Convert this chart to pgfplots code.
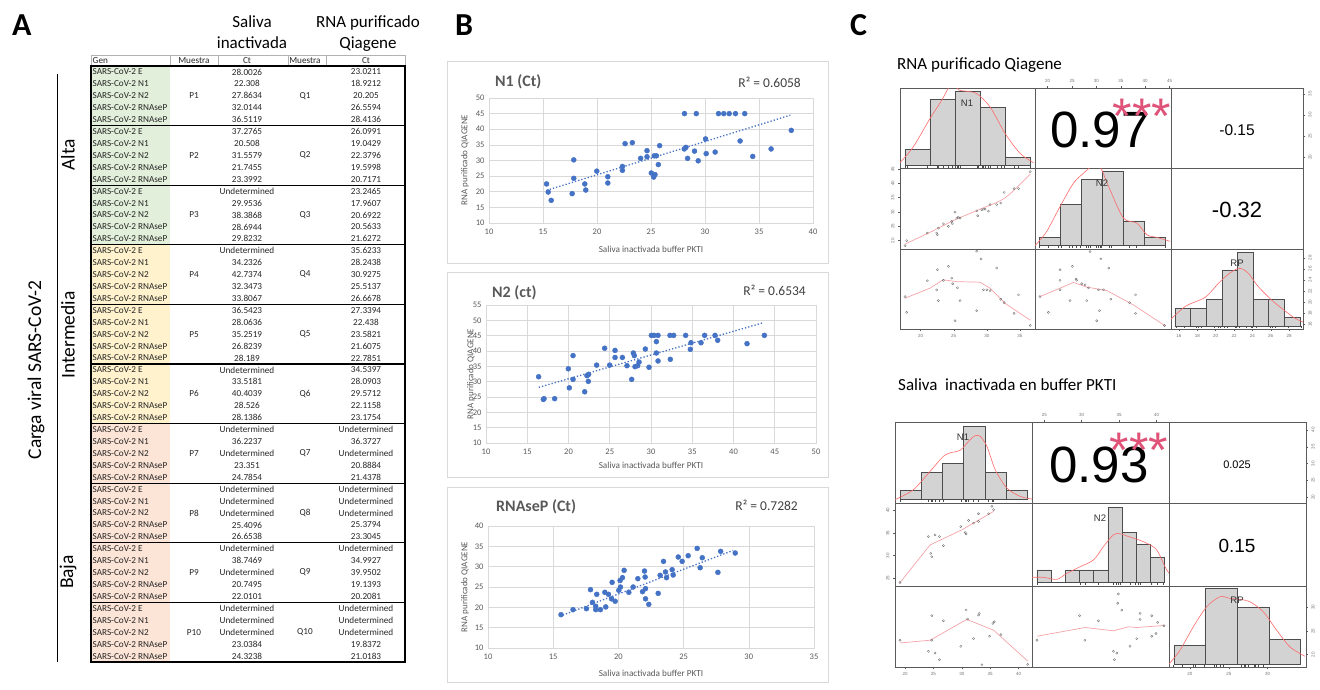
\documentclass[border=0pt]{standalone}
\usepackage{fontspec}
\setmainfont{Carlito}
\newfontfamily\arial{Liberation Sans}
\usepackage{pgfplots}
\pgfplotsset{compat=1.18}
\definecolor{xblue}{HTML}{4472C4}
\definecolor{xgrid}{HTML}{D9D9D9}
\definecolor{xtxt}{HTML}{595959}
\definecolor{gfill}{HTML}{E2EFDA}
\definecolor{yfill}{HTML}{FFF2CC}
\definecolor{pfill}{HTML}{FCE4D6}
\definecolor{hbar}{HTML}{D3D3D3}
\definecolor{hedge}{HTML}{4D4D4D}
\definecolor{densc}{HTML}{FF6A6A}
\definecolor{loessc}{HTML}{F4A3A8}
\definecolor{star}{HTML}{DF5379}
\definecolor{cframe}{HTML}{5A5A5A}
\definecolor{ttxt}{HTML}{262626}
\newcommand{\fs}[1]{\fontsize{#1}{#1}\selectfont}
\newcommand{\U}{Undetermined}
\pgfplotsset{
 excel/.style={scale only axis, anchor=south west, grid=major,
   grid style={draw=xgrid, line width=0.6pt},
   axis line style={draw=xgrid, line width=0.6pt},
   major tick length=0pt, tick style={draw=none},
   tick label style={font=\fs{8.5}, text=xtxt},
   /pgf/number format/assume math mode=true,
   xticklabel style={yshift=-2pt}, yticklabel style={xshift=-1pt}},
 dots/.style={only marks, mark=*, mark size=2.5pt, color=xblue},
 trend/.style={xblue, dotted, line width=1.3pt},
 cell/.style={scale only axis, anchor=north west,
   axis line style={draw=cframe, line width=0.6pt},
   xtick=\empty, ytick=\empty, tick align=outside, major tick length=2pt,
   tick style={draw=cframe, line width=0.4pt},
   tick label style={font=\arial\fs{4.5}, text=black!55},
   /pgf/number format/assume math mode=true},
 hist/.style={ybar interval, fill=hbar, draw=hedge, line width=0.5pt},
 dens/.style={densc, smooth, line width=0.6pt, mark=none},
 lo/.style={loessc, line width=0.7pt, mark=none},
 pts/.style={only marks, mark=o, mark size=1.1pt, draw=black!60, mark options={line width=0.3pt}},
 rug/.style={ycomb, black!70, line width=0.3pt, mark=none},
 rtick/.style={ytick pos=right, yticklabel pos=right, yticklabel style={rotate=90, anchor=north}},
 ltick/.style={ytick pos=left, yticklabel style={rotate=90, anchor=south}},
}
\begin{document}
\begin{tikzpicture}
\useasboundingbox (0pt,0pt) rectangle (1320pt,-689pt);
\begin{scope}[x=1pt,y=-1pt]
% ---------------- Panel A ----------------
\node[anchor=base west, inner sep=0pt, font=\bfseries\fs{32}] at (12,35) {A};
\node[anchor=base, inner sep=0pt, font=\fs{17}] at (252,27) {Saliva};
\node[anchor=base, inner sep=0pt, font=\fs{17}] at (252,48) {inactivada};
\node[anchor=base, inner sep=0pt, font=\fs{17}] at (368,27) {RNA purificado};
\node[anchor=base, inner sep=0pt, font=\fs{17}] at (368,48) {Qiagene};
\node[rotate=90, inner sep=0pt, font=\fs{19.5}] at (36,370) {Carga viral SARS-CoV-2};
\node[rotate=90, inner sep=0pt, font=\fs{19.5}] at (68,155) {Alta};
\node[rotate=90, inner sep=0pt, font=\fs{19.5}] at (68,335) {Intermedia};
\node[rotate=90, inner sep=0pt, font=\fs{19.5}] at (68,572) {Baja};
\draw[black, line width=0.8pt] (57,74) -- (57,662);
% header
\foreach \xa/\xb in {91/170,170/218,218/288,288/326,326/405}
  \draw[black!30, line width=0.5pt] (\xa,55) rectangle (\xb,66);
\begin{scope}[every node/.style={inner sep=0pt, font=\fs{9.2}, text=ttxt}]
\node[anchor=west] at (92.5,60.5) {Gen};
\node at (194,60.5) {Muestra};
\node at (247,60.5) {Ct};
\node at (305,60.5) {Muestra};
\node at (366,60.5) {Ct};
\end{scope}
\foreach \n/\fc in {0/gfill,1/gfill,2/gfill,3/yfill,4/yfill,5/yfill,6/pfill,7/pfill,8/pfill,9/pfill}
  \fill[\fc] (91,{66+\n*59.6}) rectangle (170,{66+(\n+1)*59.6});
\foreach \n/\pA/\qA/\sA/\sB/\sC/\sD/\sE/\rA/\rB/\rC/\rD/\rE in {
 0/P1/Q1/28.0026/22.308/27.8634/32.0144/36.5119/23.0211/18.9212/20.205/26.5594/28.4136,
 1/P2/Q2/37.2765/20.508/31.5579/21.7455/23.3992/26.0991/19.0429/22.3796/19.5998/20.7171,
 2/P3/Q3/\U/29.9536/38.3868/28.6944/29.8232/23.2465/17.9607/20.6922/20.5633/21.6272,
 3/P4/Q4/\U/34.2326/42.7374/32.3473/33.8067/35.6233/28.2438/30.9275/25.5137/26.6678,
 4/P5/Q5/36.5423/28.0636/35.2519/26.8239/28.189/27.3394/22.438/23.5821/21.6075/22.7851,
 5/P6/Q6/\U/33.5181/40.4039/28.526/28.1386/34.5397/28.0903/29.5712/22.1158/23.1754,
 6/P7/Q7/\U/36.2237/\U/23.351/24.7854/\U/36.3727/\U/20.8884/21.4378,
 7/P8/Q8/\U/\U/\U/25.4096/26.6538/\U/\U/\U/25.3794/23.3045,
 8/P9/Q9/\U/38.7469/\U/20.7495/22.0101/\U/34.9927/39.9502/19.1393/20.2081,
 9/P10/Q10/\U/\U/\U/23.0384/24.3238/\U/\U/\U/19.8372/21.0183}{
 \pgfmathsetmacro{\tp}{66+\n*59.6}
 \begin{scope}[every node/.style={inner sep=0pt, font=\fs{9.2}, text=ttxt}]
 \node[anchor=west] at (92.5,{\tp+5.96}) {SARS-CoV-2 E};
 \node[anchor=west] at (92.5,{\tp+17.88}) {SARS-CoV-2 N1};
 \node[anchor=west] at (92.5,{\tp+29.8}) {SARS-CoV-2 N2};
 \node[anchor=west] at (92.5,{\tp+41.72}) {SARS-CoV-2 RNAseP};
 \node[anchor=west] at (92.5,{\tp+53.64}) {SARS-CoV-2 RNAseP};
 \node at (194,{\tp+29.8}) {\pA};
 \node at (305,{\tp+29.8}) {\qA};
 \node at (247,{\tp+5.96}) {\sA};
 \node at (247,{\tp+17.88}) {\sB};
 \node at (247,{\tp+29.8}) {\sC};
 \node at (247,{\tp+41.72}) {\sD};
 \node at (247,{\tp+53.64}) {\sE};
 \node at (366,{\tp+5.96}) {\rA};
 \node at (366,{\tp+17.88}) {\rB};
 \node at (366,{\tp+29.8}) {\rC};
 \node at (366,{\tp+41.72}) {\rD};
 \node at (366,{\tp+53.64}) {\rE};
 \end{scope}
 \draw[black, line width=1.1pt] (91,\tp) rectangle (405,{\tp+59.6});
}
% ---------------- Panel B frames and texts ----------------
\node[anchor=base west, inner sep=0pt, font=\bfseries\fs{32}] at (455,35) {B};
\node[anchor=base west, inner sep=0pt, font=\bfseries\fs{32}] at (850,35) {C};
\draw[xgrid, line width=0.8pt] (447,61) rectangle (828,263);
\draw[xgrid, line width=0.8pt] (447,272) rectangle (828,477);
\draw[xgrid, line width=0.8pt] (447,487) rectangle (828,682);
\node[anchor=west, inner sep=0pt, font=\bfseries\fs{16}, text=xtxt] at (495,82) {N1 (Ct)};
\node[anchor=east, inner sep=0pt, font=\fs{13.5}, text=black!75] at (801,82) {R² = 0.6058};
\node[anchor=west, inner sep=0pt, font=\bfseries\fs{16}, text=xtxt] at (492,293) {N2 (ct)};
\node[anchor=east, inner sep=0pt, font=\fs{13.5}, text=black!75] at (806,290) {R² = 0.6534};
\node[anchor=west, inner sep=0pt, font=\bfseries\fs{16}, text=xtxt] at (496,507) {RNAseP (Ct)};
\node[anchor=east, inner sep=0pt, font=\fs{13.5}, text=black!75] at (798,505) {R² = 0.7282};
\node[inner sep=0pt, font=\fs{9.2}, text=xtxt] at (651,249) {Saliva inactivada buffer PKTI};
\node[inner sep=0pt, font=\fs{9.2}, text=xtxt] at (651,465) {Saliva inactivada buffer PKTI};
\node[inner sep=0pt, font=\fs{9.2}, text=xtxt] at (651,673) {Saliva inactivada buffer PKTI};
\node[rotate=90, inner sep=0pt, font=\fs{9}, text=xtxt] at (465,160) {RNA purificado QIAGENE};
\node[rotate=90, inner sep=0pt, font=\fs{9}, text=xtxt] at (471,374) {RNA purificado QIAGENE};
\node[rotate=90, inner sep=0pt, font=\fs{9}, text=xtxt] at (465,587) {RNA purificado QIAGENE};
% ---------------- Panel C titles ----------------
\node[anchor=west, inner sep=0pt, font=\fs{17}] at (897,65) {RNA purificado Qiagene};
\node[anchor=west, inner sep=0pt, font=\fs{17}] at (898,385) {Saliva\ \ inactivada en buffer PKTI};
\end{scope}

% ================= Panel B plots =================
\begin{axis}[excel, at={(489pt,-223pt)}, width=324pt, height=125pt,
  xmin=10, xmax=40, ymin=10, ymax=50, xtick={10,15,...,40}, ytick={10,15,...,50}]
\addplot[dots] coordinates {(15.33,22.5) (15.48,19.9) (15.76,17.25) (17.7,19.4) (17.85,24.3) (17.85,30.2)
 (18.87,22.5) (18.96,20.55) (19.98,26.6) (21.0,24.8) (21.0,22.8) (22.35,28.1) (22.35,26.85) (22.6,35.4)
 (23.27,35.7) (24.04,30.7) (24.63,33.15) (24.63,31.2) (25.03,26.0) (25.25,24.7) (25.37,25.5) (25.3,31.5)
 (25.5,31.5) (25.68,28.7) (25.8,34.75) (28.08,33.7) (28.23,34.2) (28.1,45) (28.39,30.7) (29.03,33.0)
 (29.19,45) (29.37,29.9) (30.05,36.9) (30.11,32.2) (30.94,32.7) (31.25,45) (31.74,45) (32.24,45)
 (32.82,45) (33.25,36.25) (33.68,45) (34.42,31.3) (36.12,33.7) (37.99,39.65)};
\addplot[trend] coordinates {(15.33,20.45) (37.9,44.5)};
\end{axis}

\begin{axis}[excel, at={(486pt,-443pt)}, width=330pt, height=138pt,
  xmin=10, xmax=50, ymin=10, ymax=55, xtick={10,15,...,50}, ytick={10,15,...,55}]
\addplot[dots] coordinates {(16.38,31.6) (16.95,24.2) (17.03,24.45) (18.32,24.45) (19.98,34.2) (20.1,28.0)
 (20.55,38.5) (20.55,30.75) (21.96,26.7) (22.24,31.95) (22.44,32.4) (22.4,30.1) (23.41,35.4) (24.38,40.9)
 (24.99,35.4) (25.64,40.2) (25.64,37.9) (26.53,37.9) (27.09,35.2) (27.66,30.75) (27.86,39.35) (27.98,38.5)
 (28.06,34.9) (28.38,35.2) (28.55,36.4) (29.31,40.65) (29.76,34.7) (30.04,45.1) (30.36,45.1) (30.65,43.05)
 (30.65,39.35) (30.85,45.1) (30.85,36.75) (32.3,45.1) (32.34,37.3) (32.75,45.1) (34.2,45.1) (34.77,40.55)
 (34.85,42.7) (36.06,42.7) (36.5,45.1) (37.76,45.1) (38.08,43.5) (41.64,42.4) (43.74,45.1)};
\addplot[trend] coordinates {(16.4,28.15) (43.57,49.2)};
\end{axis}

\begin{axis}[excel, at={(488pt,-648pt)}, width=326pt, height=122pt,
  xmin=10, xmax=35, ymin=10, ymax=40, xtick={10,15,...,35}, ytick={10,15,...,40}]
\addplot[dots] coordinates {(15.6,18.2) (16.52,19.43) (17.55,19.67) (17.86,24.34) (18.01,21.23) (18.26,20.25)
 (18.26,19.43) (18.34,23.2) (18.62,19.43) (18.96,23.7) (19.03,20.1) (19.24,23.2) (19.47,22.1) (19.52,26.15)
 (19.75,21.5) (20.03,24.2) (20.13,26.6) (20.16,25.0) (20.31,27.3) (20.44,29.1) (20.8,23.7) (21.13,25.0)
 (21.49,27.05) (21.85,23.85) (22.0,28.93) (22.05,27.46) (22.08,24.6) (22.08,22.1) (22.33,20.74) (23.05,23.44)
 (23.2,27.87) (23.46,31.3) (23.61,28.7) (23.69,27.3) (24.12,29.26) (24.2,27.95) (24.59,32.38) (24.89,31.3)
 (25.35,32.7) (26.04,34.5) (26.27,29.75) (26.43,32.2) (27.63,28.6) (27.84,33.77) (28.96,33.36)};
\addplot[trend] coordinates {(15.5,17.8) (28.8,34.0)};
\end{axis}

% ================= Panel C: top matrix =================
\begin{axis}[cell, at={(900pt,-88pt)}, width=135pt, height=80pt, xmin=16.87, xmax=37.3, ymin=-0.28, ymax=9.36]
\addplot[hist] coordinates {(17.6,2) (21.4,8) (25.2,9) (29.0,7) (32.8,1) (36.6,1)};
\addplot[dens] coordinates {(16.87,0.36) (18.89,2.28) (21.41,5.68) (23.18,7.88) (24.19,9.36) (24.95,10.1) (25.7,9.16) (26.97,8.96) (28.48,8.68) (30.5,7.08) (32.78,3.88) (35.05,1.48) (37.07,0.36)};
\addplot[rug] coordinates {(17.63,-0.25) (17.88,-0.25) (21.01,-0.25) (22.42,-0.25) (22.53,-0.25) (22.68,-0.25) (23.43,-0.25) (24.19,-0.25) (24.7,-0.25) (24.8,-0.25) (25.2,-0.25) (25.45,-0.25) (25.7,-0.25) (25.96,-0.25) (28.48,-0.25) (28.64,-0.25) (29.24,-0.25) (29.5,-0.25) (29.75,-0.25) (30.25,-0.25) (30.5,-0.25) (31.5,-0.25) (32.12,-0.25) (32.63,-0.25) (34.14,-0.25) (34.8,-0.25) (36.57,-0.25)};
\end{axis}
\begin{axis}[cell, at={(1035pt,-88pt)}, width=136pt, height=80pt, xmin=17.4, xmax=45.3, ymin=0, ymax=1,
  xtick={20,25,...,45}, xtick pos=right, xticklabel pos=right]
\addplot[draw=none] coordinates {(20,0.5)};
\end{axis}
\begin{axis}[cell, rtick, at={(1171pt,-88pt)}, width=132pt, height=80pt, xmin=0, xmax=1, ymin=17.4, ymax=36.4, ytick={20,25,30,35}]
\addplot[draw=none] coordinates {(0.5,25)};
\end{axis}
\begin{axis}[cell, ltick, at={(900pt,-168pt)}, width=135pt, height=81pt, xmin=16.87, xmax=37.3, ymin=17.1, ymax=45.35, ytick={20,25,...,45}]
\addplot[pts] coordinates {(17.63,18.26) (17.88,20.0) (21.01,22.66) (22.42,22.66) (22.53,22.08) (22.68,24.4) (23.43,25.9) (24.19,24.98) (24.7,26.7) (24.8,25.9) (25.2,29.95) (25.45,27.87) (25.7,28.2) (25.96,27.87) (28.48,30.4) (28.64,28.7) (29.24,30.76) (29.5,31.0) (29.75,31.0) (30.25,30.3) (30.5,32.6) (31.5,32.6) (32.12,33.1) (32.63,36.8) (34.14,38.17) (34.8,38.17) (36.57,44.07)};
\addplot[lo, smooth] coordinates {(17.6,18.8) (21.4,22.9) (25.2,27.3) (29,31) (32.8,35.0) (36.6,43.3)};
\end{axis}
\begin{axis}[cell, at={(1035pt,-168pt)}, width=136pt, height=81pt, xmin=17.4, xmax=45.3, ymin=-0.4, ymax=9.36]
\addplot[hist] coordinates {(18.29,1) (22.6,5) (26.9,8) (31.2,9) (35.5,3) (39.9,1) (44.2,1)};
\addplot[dens] coordinates {(17.4,0) (19.8,1.72) (22.53,4.72) (25.27,7.52) (27.33,8.72) (29.38,9.72) (30.75,9.52) (32.8,6.72) (35.55,3.32) (38.29,2.72) (40.34,1.32) (42.4,1.0) (45.14,0.52)};
\addplot[rug] coordinates {(18.26,-0.3) (20.0,-0.3) (22.66,-0.3) (22.08,-0.3) (24.4,-0.3) (25.9,-0.3) (24.98,-0.3) (26.7,-0.3) (29.95,-0.3) (27.87,-0.3) (28.2,-0.3) (28.7,-0.3) (30.4,-0.3) (30.76,-0.3) (31.0,-0.3) (30.3,-0.3) (32.6,-0.3) (33.1,-0.3) (36.8,-0.3) (38.17,-0.3) (44.07,-0.3)};
\end{axis}
\begin{axis}[cell, at={(1171pt,-168pt)}, width=132pt, height=81pt, xmin=0, xmax=1, ymin=0, ymax=1]
\addplot[draw=none] coordinates {(0.5,0.5)};
\end{axis}
\begin{axis}[cell, at={(900pt,-249pt)}, width=135pt, height=80pt, xmin=16.87, xmax=37.3, ymin=15, ymax=29.7, xtick={20,25,30,35}, xtick pos=left]
\addplot[pts] coordinates {(17.63,20.96) (17.88,18.06) (21.01,23.86) (22.53,25.9) (22.42,22.2) (22.68,20.22) (23.43,23.93) (24.19,26.52) (24.7,24.36) (24.85,23.31) (25.56,22.57) (25.96,20.22) (25.2,16.52) (28.48,29.3) (29.14,27.88) (29.5,22.2) (28.48,18.37) (30.0,22.2) (30.5,22.07) (31.5,26.2) (32.12,20.47) (32.63,19.85) (34.14,17.88) (34.8,21.27) (36.57,15.65)};
\addplot[lo] coordinates {(17.6,20.65) (21.4,22.5) (23.4,24.05) (25.45,23.7) (28.99,23.6) (30.5,22.5) (32.8,19.7) (36.6,16.6)};
\end{axis}
\begin{axis}[cell, at={(1035pt,-249pt)}, width=136pt, height=80pt, xmin=17.4, xmax=45.3, ymin=15, ymax=29.7]
\addplot[pts] coordinates {(18.42,20.96) (20.14,18.06) (22.53,25.9) (22.53,23.93) (22.53,22.2) (25.07,26.52) (24.59,20.22) (25.82,24.17) (25.96,23.93) (26.99,23.31) (27.67,23.12) (28.01,20.22) (28.36,22.57) (28.7,29.23) (30.07,16.52) (30.41,22.2) (30.62,18.37) (30.89,27.88) (31.44,22.2) (32.53,26.2) (32.95,20.47) (36.78,19.85) (38.01,21.27) (38.01,17.88) (43.97,15.65)};
\addplot[lo] coordinates {(18.42,20.96) (22.53,22.5) (25.27,23.56) (28.01,22.7) (32.12,22.07) (37.6,19.42) (43.97,15.65)};
\end{axis}
\begin{axis}[cell, at={(1171pt,-249pt)}, width=132pt, height=80pt, xmin=15.13, xmax=29.52, ymin=-0.34, ymax=8.72, xtick={16,18,...,28}, xtick pos=left]
\addplot[hist] coordinates {(15.56,2) (17.27,2) (18.97,3) (20.71,6.3) (22.39,8.35) (24.09,3) (25.77,3) (27.47,1) (29.21,1)};
\addplot[dens] coordinates {(14.47,0.11) (16.65,2.19) (18.84,3.25) (20.47,5.02) (21.75,6.15) (22.65,6.53) (23.56,5.97) (24.65,4.45) (26.1,2.94) (27.2,2.0) (28.65,0.87) (29.74,0.37)};
\addplot[rug] coordinates {(20.96,-0.28) (18.06,-0.28) (23.86,-0.28) (25.9,-0.28) (22.2,-0.28) (20.22,-0.28) (23.93,-0.28) (26.52,-0.28) (24.36,-0.28) (23.31,-0.28) (22.57,-0.28) (16.52,-0.28) (29.3,-0.28) (27.88,-0.28) (18.37,-0.28) (22.07,-0.28) (26.2,-0.28) (20.47,-0.28) (19.85,-0.28) (17.88,-0.28) (21.27,-0.28) (15.65,-0.28)};
\end{axis}
\begin{axis}[cell, rtick, at={(1171pt,-249pt)}, width=132pt, height=80pt, xmin=0, xmax=1, ymin=15.15, ymax=29.57, ytick={16,18,...,28}, axis line style={draw=none}]
\addplot[draw=none] coordinates {(0.5,20)};
\end{axis}

% ================= Panel C: bottom matrix =================
\begin{axis}[cell, at={(895pt,-422pt)}, width=137pt, height=81pt, xmin=18.24, xmax=42.35, ymin=-0.36, ymax=8.47]
\addplot[hist] coordinates {(19.12,1) (22.82,3) (26.59,4) (30.29,8) (34.06,3) (37.82,1) (41.47,1)};
\addplot[dens] coordinates {(18.24,0) (21.47,1.09) (24.41,3.09) (26.76,4.73) (28.24,5.16) (29.71,5.38) (31.47,6.55) (32.35,6.98) (33.24,6.91) (34.41,5.82) (35.88,3.27) (37.94,1.27) (40.29,0.36) (42.35,0.07)};
\addplot[rug] coordinates {(19.12,-0.3) (24.12,-0.3) (24.53,-0.3) (24.71,-0.3) (25.29,-0.3) (26.06,-0.3) (26.76,-0.3) (29.82,-0.3) (30.59,-0.3) (30.76,-0.3) (31.18,-0.3) (32.06,-0.3) (32.94,-0.3) (34.71,-0.3) (35.29,-0.3) (35.59,-0.3)};
\end{axis}
\begin{axis}[cell, at={(1032pt,-422pt)}, width=137pt, height=81pt, xmin=23.36, xmax=41.67, ymin=0, ymax=1,
  xtick={25,30,35,40}, xtick pos=right, xticklabel pos=right]
\addplot[draw=none] coordinates {(30,0.5)};
\end{axis}
\begin{axis}[cell, rtick, at={(1169pt,-422pt)}, width=137pt, height=81pt, xmin=0, xmax=1, ymin=18.24, ymax=42.35, ytick={20,25,...,40}]
\addplot[draw=none] coordinates {(0.5,30)};
\end{axis}
\begin{axis}[cell, ltick, at={(895pt,-503pt)}, width=137pt, height=83pt, xmin=18.24, xmax=42.35, ymin=23.3, ymax=41.63, ytick={25,30,35,40}]
\addplot[pts] coordinates {(19.12,24.07) (24.12,34.22) (24.53,30.52) (24.71,29.78) (25.29,34.59) (26.06,34.22) (26.76,32.22) (29.82,36.44) (30.59,35.11) (30.76,34.81) (31.18,37.78) (32.06,37.19) (32.94,37.56) (32.94,39.26) (34.71,39.26) (35.29,40.89) (35.59,40.15)};
\addplot[lo] coordinates {(19.12,24.07) (24.41,32.37) (30.0,35.7) (35.59,39.78)};
\end{axis}
\begin{axis}[cell, at={(1032pt,-503pt)}, width=137pt, height=83pt, xmin=23.36, xmax=41.67, ymin=-0.29, ymax=6.32]
\addplot[hist] coordinates {(24.02,1) (25.93,0) (27.8,1) (29.67,1) (31.58,1) (33.49,6) (35.44,4) (37.27,3) (39.13,2) (41.04,2)};
\addplot[dens] coordinates {(23.36,0.4) (24.91,0.4) (26.69,0.24) (28.02,0.72) (29.8,1.25) (31.58,1.79) (32.91,2.85) (34.24,3.79) (35.13,3.87) (36.24,3.65) (37.36,3.44) (38.69,3.12) (40.02,2.59) (41.13,1.25) (41.67,0.72)};
\addplot[rug] coordinates {(24.07,-0.22) (34.22,-0.22) (30.52,-0.22) (29.78,-0.22) (34.59,-0.22) (32.22,-0.22) (36.44,-0.22) (35.11,-0.22) (34.81,-0.22) (37.78,-0.22) (37.19,-0.22) (37.56,-0.22) (39.26,-0.22) (40.89,-0.22) (40.15,-0.22)};
\end{axis}
\begin{axis}[cell, at={(1169pt,-503pt)}, width=137pt, height=83pt, xmin=0, xmax=1, ymin=0, ymax=1]
\addplot[draw=none] coordinates {(0.5,0.5)};
\end{axis}
\begin{axis}[cell, at={(895pt,-586pt)}, width=137pt, height=81pt, xmin=18.24, xmax=42.35, ymin=17.4, ymax=34.5, xtick={20,25,...,40}, xtick pos=left]
\addplot[pts] coordinates {(19.12,23.05) (24.71,28.23) (24.71,23.05) (24.12,20.71) (25.29,20.35) (26.06,18.94) (26.76,27.16) (29.82,21.77) (30.76,29.43) (31.0,27.52) (32.06,23.4) (32.94,28.37) (33.06,28.72) (33.53,17.87) (34.88,23.9) (35.47,26.6) (35.71,26.95) (36.88,24.26) (41.59,17.94)};
\addplot[lo] coordinates {(19.12,22.48) (24.41,23.05) (30.88,27.45) (35.59,25.18) (41.59,18.65)};
\end{axis}
\begin{axis}[cell, at={(1032pt,-586pt)}, width=137pt, height=81pt, xmin=23.36, xmax=41.67, ymin=17.4, ymax=34.5]
\addplot[pts] coordinates {(24.02,23.05) (29.71,28.23) (30.42,23.05) (32.24,27.16) (34.24,20.71) (34.69,20.35) (34.38,18.94) (34.82,30.85) (34.91,32.84) (35.36,29.43) (36.47,21.77) (37.36,23.4) (37.8,28.72) (37.8,27.45) (39.36,28.23) (39.36,23.9) (39.93,24.47) (40.16,26.81) (41.0,26.1)};
\addplot[lo] coordinates {(24.02,23.9) (30.47,25.74) (34.24,25.04) (36.24,25.89) (37.36,25.74) (41.0,26.17)};
\end{axis}
\begin{axis}[cell, at={(1169pt,-586pt)}, width=137pt, height=81pt, xmin=17.3, xmax=34.94, ymin=-0.37, ymax=12.37, xtick={20,25,30}, xtick pos=left]
\addplot[hist] coordinates {(17.94,3) (21.93,12) (26.09,9) (30.21,4) (34.25,4)};
\addplot[dens] coordinates {(17.3,0.1) (18.71,2.26) (20.43,5.95) (22.15,9.1) (23.86,10.68) (25.15,10.42) (26.44,10.26) (27.73,9.89) (29.44,8.32) (31.16,5.42) (32.88,2.79) (34.8,1.32)};
\addplot[rug] coordinates {(23.05,-0.3) (28.23,-0.3) (20.71,-0.3) (20.35,-0.3) (18.94,-0.3) (27.16,-0.3) (21.77,-0.3) (29.43,-0.3) (27.52,-0.3) (23.4,-0.3) (28.37,-0.3) (28.72,-0.3) (17.87,-0.3) (23.9,-0.3) (26.6,-0.3) (26.95,-0.3) (24.26,-0.3)};
\end{axis}
\begin{axis}[cell, rtick, at={(1169pt,-586pt)}, width=137pt, height=81pt, xmin=0, xmax=1, ymin=17.4, ymax=34.5, ytick={20,25,30}, axis line style={draw=none}]
\addplot[draw=none] coordinates {(0.5,25)};
\end{axis}

% ================= Panel C texts =================
\begin{scope}[x=1pt,y=-1pt]
\node[anchor=base, inner sep=0pt, font=\arial\fs{51}] at (1100,147) {0.97};
\node[anchor=base, inner sep=0pt, font=\arial\fs{50}, text=star] at (1142,133) {***};
\node[anchor=base, inner sep=0pt, font=\arial\fs{15.5}] at (1237,135) {-0.15};
\node[anchor=base, inner sep=0pt, font=\arial\fs{22}] at (1237,217) {-0.32};
\node[inner sep=0pt, font=\arial\fs{9.5}, text=black!80] at (967,103) {N1};
\node[inner sep=0pt, font=\arial\fs{9.5}, text=black!80] at (1102,183) {N2};
\node[inner sep=0pt, font=\arial\fs{9.5}, text=black!80] at (1237,263) {RP};
\node[anchor=base, inner sep=0pt, font=\arial\fs{51}] at (1099,482) {0.93};
\node[anchor=base, inner sep=0pt, font=\arial\fs{50}, text=star] at (1139,467) {***};
\node[anchor=base, inner sep=0pt, font=\arial\fs{11}] at (1237,468) {0.025};
\node[anchor=base, inner sep=0pt, font=\arial\fs{19}] at (1237,552) {0.15};
\node[inner sep=0pt, font=\arial\fs{9.5}, text=black!80] at (963,437) {N1};
\node[inner sep=0pt, font=\arial\fs{9.5}, text=black!80] at (1100,518) {N2};
\node[inner sep=0pt, font=\arial\fs{9.5}, text=black!80] at (1237,600) {RP};
\end{scope}
\end{tikzpicture}
\end{document}
